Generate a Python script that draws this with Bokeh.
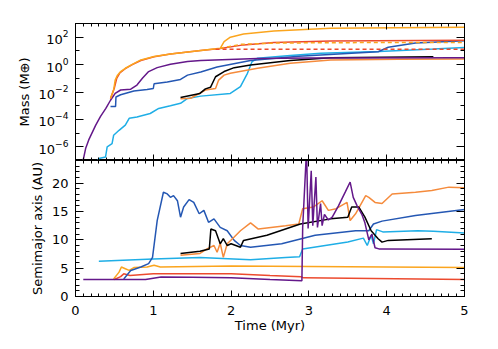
from bokeh.plotting import figure
from bokeh.layouts import column
from bokeh.models import (Range1d, FixedTicker, LinearAxis, LogAxis,
                          CustomJSTickFormatter, SingleIntervalTicker)
from bokeh.embed import file_html
from bokeh.resources import INLINE

FONT = "DejaVu Sans"

# ---------------- data: mass (Earth masses) vs time (Myr) ----------------
purple_mt = [0.094, 0.13, 0.17, 0.26, 0.32, 0.39, 0.45, 0.51, 0.58, 0.71, 0.79, 0.86, 0.94, 1.05, 1.22, 1.44, 1.61, 2.34, 3.0, 5.0]
purple_m = [8e-8, 7.4e-7, 3.2e-6, 3.8e-5, 1.6e-4, 6.3e-4, 2.5e-3, 7.9e-3, 1.4e-2, 1.6e-2, 3.2e-2, 0.1, 0.31, 0.6, 1.05, 1.66, 2.0, 2.8, 3.0, 3.2]

lorange_mt = [0.45, 0.49, 0.51, 0.54, 0.58, 0.64, 0.73, 0.84, 1.01, 1.22, 1.61, 1.86, 1.91, 1.99, 2.16, 2.55, 3.28, 5.0]
lorange_m = [3.4e-3, 1.4e-2, 7.4e-2, 0.17, 0.31, 0.54, 1.05, 2.2, 3.9, 6.0, 10.7, 15.5, 48, 100, 174, 288, 457, 537]

lorange_core_t = [1.86, 2.0, 2.12, 2.55, 3.28, 5.0]
lorange_core_m = [15.5, 22, 30, 37, 40, 41]

red_mt = [0.45, 0.50, 0.53, 0.57, 0.64, 0.73, 0.84, 1.01, 1.22, 1.61, 1.86, 2.16, 2.55, 3.28, 5.0]
red_m = [3.4e-3, 2e-2, 0.1, 0.25, 0.5, 1.0, 2.0, 3.7, 5.9, 10.5, 15.1, 27.5, 40.7, 53.7, 58.9]

red_core_t = [1.8, 2.0, 5.0]
red_core_m = [13.0, 13.2, 13.2]

blue_mt = [0.45, 0.515, 0.52, 0.58, 0.75, 0.92, 1.0, 1.01, 1.18, 1.35, 1.44, 1.61, 1.82, 2.25, 2.87, 3.89, 4.02, 4.37, 5.0]
blue_m = [8.7e-4, 8.7e-4, 4.3e-3, 6.3e-3, 1.2e-2, 1.5e-2, 1.8e-2, 4.0e-2, 5.4e-2, 8.3e-2, 0.17, 0.29, 0.66, 2.0, 4.1, 8.7, 18.6, 38, 55]

lblue_mt = [0.28, 0.3, 0.386, 0.407, 0.47, 0.49, 0.56, 0.64, 0.69, 0.79, 0.96, 1.07, 1.22, 1.35, 1.44, 1.61, 1.99, 2.12, 2.21, 2.27, 2.34, 2.76, 3.15, 3.9, 4.6, 5.0]
lblue_m = [8e-8, 1.4e-7, 1.8e-7, 1e-6, 1.7e-6, 6.9e-6, 1.6e-5, 3.8e-5, 1.2e-4, 1.5e-4, 2.7e-4, 6.3e-4, 1e-3, 1.5e-3, 3.4e-3, 5e-3, 7.9e-3, 2.5e-2, 0.23, 1.66, 2.9, 4.6, 6.8, 8.9, 13.8, 17.8]

black_mt = [1.35, 1.6, 1.67, 1.735, 1.8, 1.91, 2.04, 2.25, 2.76, 3.28, 4.6]
black_m = [4e-3, 7.9e-3, 1.7e-2, 2.2e-2, 0.13, 0.31, 0.6, 0.93, 2.0, 3.2, 3.7]

dorange_mt = [1.35, 1.48, 1.67, 1.8, 1.84, 1.91, 1.99, 2.34, 2.76, 3.28, 4.15, 5.0]
dorange_m = [3.2e-3, 3.5e-3, 1.4e-2, 1.8e-2, 7.4e-2, 0.17, 0.23, 0.54, 1.26, 2.2, 2.45, 2.6]

# ---------------- data: semimajor axis (AU) vs time (Myr) ----------------
purple_at = [0.1, 0.9, 1.1, 1.5, 2.0, 2.5, 2.91, 2.92, 2.97, 2.99, 3.03, 3.05, 3.09, 3.11, 3.15, 3.17, 3.2, 3.25, 3.3, 3.38, 3.47, 3.53, 3.57, 3.62, 3.68, 3.72, 3.77, 3.81, 3.85, 3.9, 3.94, 5.0]
purple_a = [3.0, 3.0, 3.45, 3.4, 3.3, 3.0, 2.8, 12.2, 26, 12.0, 22.2, 12.5, 21.1, 12.2, 16.4, 12.5, 14.5, 13.5, 14.0, 16.0, 18.5, 20.2, 17.5, 16.0, 14.5, 13.0, 10.0, 11.0, 8.6, 8.4, 8.4, 8.35]

red_at = [0.5, 0.58, 0.62, 0.7, 1.0, 2.0, 2.5, 2.9, 2.93, 5.0]
red_a = [3.0, 3.5, 4.0, 3.7, 4.0, 4.0, 3.7, 3.5, 3.3, 3.0]

lorange_at = [0.49, 0.56, 0.59, 0.64, 0.69, 0.75, 0.92, 1.01, 1.09, 2.0, 3.0, 5.0]
lorange_a = [3.1, 4.3, 5.2, 4.9, 4.6, 5.1, 5.2, 5.5, 5.2, 5.4, 5.3, 5.1]

lblue_at = [0.3, 1.0, 1.6, 2.25, 2.7, 2.88, 2.92, 3.5, 3.7, 3.75, 3.8, 3.83, 3.87, 3.95, 4.4, 4.6, 5.0]
lblue_a = [6.2, 6.6, 6.9, 6.5, 6.9, 7.0, 8.4, 9.6, 10.3, 9.0, 10.8, 9.3, 11.8, 11.4, 11.6, 11.5, 11.2]

blue_at = [0.62, 0.71, 0.84, 0.94, 0.99, 1.05, 1.13, 1.18, 1.22, 1.26, 1.31, 1.35, 1.39, 1.46, 1.52, 1.59, 1.65, 1.71, 1.78, 1.86, 1.95, 2.04, 2.12, 2.25, 2.65, 3.08, 3.6, 3.77, 3.83, 3.94, 4.37, 5.0]
blue_a = [3.1, 4.6, 5.2, 5.8, 6.9, 13.4, 18.4, 18.1, 17.5, 17.8, 16.9, 14.0, 15.8, 17.1, 16.6, 14.6, 15.2, 13.1, 13.7, 12.2, 11.6, 9.9, 9.0, 8.7, 9.3, 10.8, 11.6, 11.6, 12.8, 13.3, 14.3, 15.35]

black_at = [1.35, 1.6, 1.72, 1.74, 1.8, 1.86, 1.9, 1.95, 2.0, 2.12, 2.16, 2.46, 2.89, 3.28, 3.5, 3.55, 3.64, 3.72, 3.8, 3.89, 3.94, 4.02, 4.58]
black_a = [7.6, 8.0, 8.4, 11.9, 11.6, 9.3, 10.2, 9.0, 9.3, 8.7, 9.9, 10.8, 12.8, 13.7, 14.0, 15.8, 15.8, 14.0, 11.6, 10.2, 9.6, 9.9, 10.2]

dorange_at = [1.35, 1.6, 1.69, 1.78, 1.82, 1.86, 1.90, 1.95, 2.04, 2.12, 2.25, 2.35, 2.7, 2.87, 2.92, 3.06, 3.17, 3.25, 3.35, 3.49, 3.53, 3.6, 3.73, 3.77, 3.85, 3.94, 4.07, 4.37, 4.58, 4.8, 5.0]
dorange_a = [7.3, 7.6, 8.4, 9.0, 7.8, 9.4, 6.9, 9.3, 10.5, 11.6, 13.0, 11.9, 12.5, 12.8, 15.5, 15.8, 16.9, 15.2, 15.5, 16.6, 13.4, 14.6, 17.8, 17.5, 16.6, 16.4, 18.1, 18.4, 18.7, 19.3, 19.2]

mass_major = [1e-6, 1e-4, 1e-2, 1, 1e2]
mass_minor = [1e-7, 1e-5, 1e-3, 1e-1, 1e1, 1e3]

PURPLE = "#64188A"
BLUE = "#2457B3"
LBLUE = "#1FAEE6"
LORANGE = "#FBA51E"
DORANGE = "#F58B3C"
RED = "#EC4A2E"
BLACK = "#000000"
LW = 1.5


def style_axis(ax, major_in, minor_in, show_labels=True):
    ax.major_tick_in = major_in
    ax.major_tick_out = 0
    ax.minor_tick_in = minor_in
    ax.minor_tick_out = 0
    ax.axis_line_color = "black"
    ax.major_tick_line_color = "black"
    ax.minor_tick_line_color = "black"
    ax.major_label_text_font = FONT
    ax.major_label_text_font_size = "13px"
    ax.major_label_text_color = "black"
    ax.axis_label_text_font = FONT
    ax.axis_label_text_font_size = "13px"
    ax.axis_label_text_font_style = "normal"
    ax.axis_label_text_color = "black"
    if not show_labels:
        ax.formatter = CustomJSTickFormatter(code="return ''")
        ax.major_label_text_font_size = "0px"
        ax.major_label_standoff = 0


x_range = Range1d(0, 5)

# ---------------- top panel ----------------
p1 = figure(frame_width=389, frame_height=137, x_range=x_range,
            y_range=Range1d(1e-7, 1e3), y_axis_type="log",
            output_backend="svg", toolbar_location=None,
            min_border_left=75, min_border_right=34, min_border_top=23,
            min_border_bottom=0)
p1.grid.visible = False
p1.outline_line_color = "black"

p1.xaxis.ticker = SingleIntervalTicker(interval=1, num_minor_ticks=10)
style_axis(p1.xaxis[0], 6, 3, show_labels=False)
p1.yaxis.ticker = FixedTicker(ticks=mass_major, minor_ticks=mass_minor)
style_axis(p1.yaxis[0], 8, 4)
p1.yaxis.major_label_standoff = 7
p1.yaxis.axis_label = "Mass (M⊕)"
p1.yaxis.axis_label_standoff = 4

top_ax = LinearAxis(ticker=SingleIntervalTicker(interval=1, num_minor_ticks=10))
style_axis(top_ax, 6, 3, show_labels=False)
p1.add_layout(top_ax, "above")
right_ax = LogAxis(ticker=FixedTicker(ticks=mass_major, minor_ticks=mass_minor))
style_axis(right_ax, 8, 4, show_labels=False)
p1.add_layout(right_ax, "right")

p1.line(lblue_mt, lblue_m, line_color=LBLUE, line_width=LW)
p1.line(dorange_mt, dorange_m, line_color=DORANGE, line_width=LW)
p1.line(black_mt, black_m, line_color=BLACK, line_width=LW)
p1.line(blue_mt, blue_m, line_color=BLUE, line_width=LW)
p1.line(purple_mt, purple_m, line_color=PURPLE, line_width=LW)
p1.line(red_mt, red_m, line_color=RED, line_width=LW)
p1.line(lorange_mt, lorange_m, line_color=LORANGE, line_width=LW)
p1.line(red_core_t, red_core_m, line_color=RED, line_width=LW, line_dash="4 3")
p1.line(lorange_core_t, lorange_core_m, line_color=LORANGE, line_width=LW, line_dash="4 3")

# ---------------- bottom panel ----------------
p2 = figure(frame_width=389, frame_height=136, x_range=x_range,
            y_range=Range1d(0, 24),
            output_backend="svg", toolbar_location=None,
            min_border_left=75, min_border_right=34, min_border_top=0,
            min_border_bottom=5)
p2.grid.visible = False
p2.outline_line_color = "black"

p2.xaxis.ticker = SingleIntervalTicker(interval=1, num_minor_ticks=10)
style_axis(p2.xaxis[0], 6, 3)
p2.xaxis.major_label_standoff = 9
p2.xaxis.axis_label = "Time (Myr)"
p2.xaxis.axis_label_standoff = 0
p2.yaxis.ticker = SingleIntervalTicker(interval=5, num_minor_ticks=5)
style_axis(p2.yaxis[0], 8, 4)
p2.yaxis.major_label_standoff = 7
p2.yaxis.axis_label = "Semimajor axis (AU)"
p2.yaxis.axis_label_standoff = 4

top_ax2 = LinearAxis(ticker=SingleIntervalTicker(interval=1, num_minor_ticks=10))
style_axis(top_ax2, 6, 3, show_labels=False)
p2.add_layout(top_ax2, "above")
right_ax2 = LinearAxis(ticker=SingleIntervalTicker(interval=5, num_minor_ticks=5))
style_axis(right_ax2, 8, 4, show_labels=False)
p2.add_layout(right_ax2, "right")

p2.line(lblue_at, lblue_a, line_color=LBLUE, line_width=LW)
p2.line(red_at, red_a, line_color=RED, line_width=LW)
p2.line(lorange_at, lorange_a, line_color=LORANGE, line_width=LW)
p2.line(blue_at, blue_a, line_color=BLUE, line_width=LW)
p2.line(dorange_at, dorange_a, line_color=DORANGE, line_width=LW)
p2.line(black_at, black_a, line_color=BLACK, line_width=LW)
p2.line(purple_at, purple_a, line_color=PURPLE, line_width=LW)

layout = column(p1, p2, spacing=0)

with open("out.html", "w") as f:
    f.write(file_html(layout, INLINE))
